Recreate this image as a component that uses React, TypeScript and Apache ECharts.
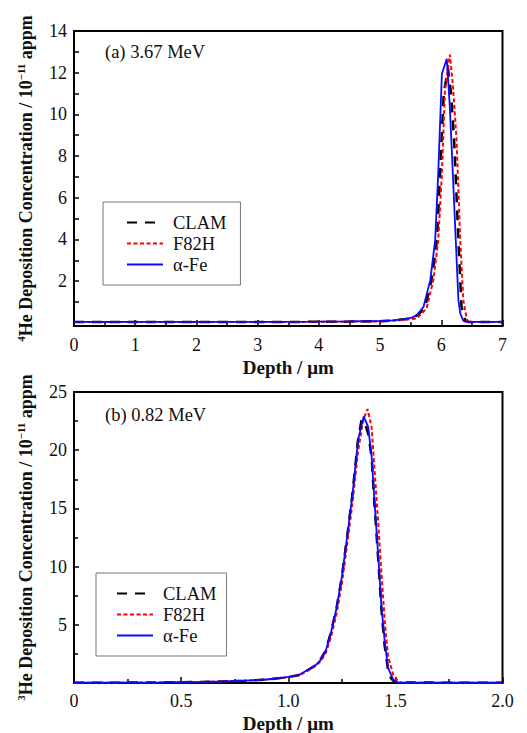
import React, { useEffect, useRef } from "react";
import * as echarts from "echarts";

// ---- data (a) 3.67 MeV, 4He ----
const topCLAM: [number, number][] = [
  [0, 0.04], [1, 0.04], [2, 0.04], [3, 0.04], [4, 0.05], [4.5, 0.06], [5, 0.08], [5.2, 0.11],
  [5.4, 0.17], [5.5, 0.22], [5.6, 0.35], [5.73, 0.69], [5.84, 2.05], [5.93, 3.96], [5.98, 7.16],
  [6.04, 11.0], [6.11, 12.2], [6.16, 11.0], [6.21, 8.75], [6.28, 3.96], [6.33, 0.77], [6.39, 0.13],
  [6.45, 0.04], [7, 0.04],
];
const topF82H: [number, number][] = [
  [0, 0.04], [1, 0.04], [2, 0.04], [3, 0.04], [4, 0.05], [4.5, 0.06], [5, 0.07], [5.2, 0.1],
  [5.4, 0.14], [5.6, 0.21], [5.76, 0.69], [5.87, 2.05], [5.95, 3.96], [6.01, 7.16], [6.06, 11.15],
  [6.14, 12.87], [6.19, 11.4], [6.25, 8.75], [6.31, 3.96], [6.36, 1.09], [6.42, 0.13], [6.46, 0.04],
  [7, 0.04],
];
const topFe: [number, number][] = [
  [0, 0.05], [1, 0.05], [2, 0.05], [3, 0.05], [4, 0.06], [4.5, 0.07], [5, 0.09], [5.2, 0.12],
  [5.4, 0.18], [5.52, 0.25], [5.6, 0.38], [5.71, 0.77], [5.82, 2.05], [5.9, 3.96], [5.95, 7.16],
  [6.01, 11.95], [6.09, 12.67], [6.14, 10.35], [6.2, 6.4], [6.28, 1.09], [6.31, 0.45], [6.36, 0.1],
  [6.4, 0.05], [7, 0.05],
];

// ---- data (b) 0.82 MeV, 3He ----
const botCLAM: [number, number][] = [
  [0, 0.02], [0.2, 0.03], [0.4, 0.05], [0.6, 0.09], [0.7, 0.13], [0.8, 0.2], [0.9, 0.3], [1.0, 0.5],
  [1.05, 0.68], [1.1, 1.2], [1.125, 1.5], [1.15, 2.0], [1.175, 2.8], [1.2, 4.4], [1.225, 6.4],
  [1.25, 9.1], [1.275, 12.6], [1.3, 16.3], [1.325, 20.8], [1.342, 22.6], [1.36, 22.2], [1.375, 21.3],
  [1.39, 19.2], [1.4, 16.0], [1.42, 10.6], [1.435, 6.3], [1.45, 3.2], [1.465, 1.2], [1.48, 0.4],
  [1.49, 0.2], [1.51, 0.04], [2.0, 0.02],
];
const botF82H: [number, number][] = [
  [0, 0.02], [0.2, 0.03], [0.4, 0.05], [0.6, 0.09], [0.7, 0.13], [0.8, 0.2], [0.9, 0.3], [1.0, 0.48],
  [1.05, 0.64], [1.1, 1.15], [1.125, 1.42], [1.15, 1.85], [1.175, 2.55], [1.2, 4.0], [1.225, 5.9],
  [1.25, 8.5], [1.275, 11.9], [1.3, 15.5], [1.325, 19.8], [1.35, 22.6], [1.37, 23.54], [1.389, 22.0],
  [1.404, 18.0], [1.42, 13.7], [1.435, 9.45], [1.451, 5.15], [1.466, 2.29], [1.49, 0.71],
  [1.513, 0.14], [1.53, 0.03], [2.0, 0.02],
];
const botFe: [number, number][] = [
  [0, 0.02], [0.2, 0.03], [0.4, 0.05], [0.6, 0.09], [0.7, 0.13], [0.8, 0.2], [0.9, 0.3], [1.0, 0.52],
  [1.05, 0.68], [1.1, 1.22], [1.125, 1.5], [1.15, 1.95], [1.175, 2.75], [1.2, 4.4], [1.225, 6.4],
  [1.25, 9.1], [1.275, 12.6], [1.3, 16.2], [1.326, 20.9], [1.352, 22.9], [1.373, 22.0], [1.389, 19.5],
  [1.404, 15.2], [1.42, 10.9], [1.435, 6.58], [1.451, 3.44], [1.466, 1.29], [1.49, 0.28],
  [1.513, 0.04], [2.0, 0.02],
];

const seriesNames = ["CLAM", "F82H", "α-Fe"];
const topYLabels = [2, 4, 6, 8, 10, 12, 14];
const topYTicks = [1, 2, 3, 4, 5, 6, 7, 8, 9, 10, 11, 12, 13, 14];
const panelLabels = ["(a) 3.67 MeV", "(b) 0.82 MeV"];

const FONT = "'Liberation Serif', 'Times New Roman', serif";
const TXT = "#111";

export default function App() {
  const ref = useRef<HTMLDivElement>(null);
  useEffect(() => {
    if (!ref.current) return;
    const chart = echarts.init(ref.current, undefined, { renderer: "svg" });

    const styles = [
      { color: "#000000", lineStyle: { color: "#000000", width: 2.5, type: [10, 8] } },
      { color: "#ff0000", lineStyle: { color: "#ff0000", width: 2, type: [4, 2.5] } },
      { color: "#0a0aff", lineStyle: { color: "#0a0aff", width: 1.8, type: "solid" } },
    ];

    const axisCommon = {
      axisLine: { show: true, onZero: false, lineStyle: { color: "#000", width: 2 } },
      axisTick: { show: true, inside: true, length: 6, lineStyle: { color: "#000", width: 1.5 } },
      minorTick: { show: true, length: 4, splitNumber: 2, lineStyle: { color: "#000", width: 1.5 } },
      splitLine: { show: false },
      axisLabel: { color: TXT, fontFamily: FONT, fontSize: 18 },
    };

    const xName = (gap: number) => ({
      name: "Depth / μm",
      nameLocation: "middle",
      nameGap: gap,
      nameTextStyle: { fontFamily: FONT, fontSize: 19, fontWeight: "bold", color: TXT },
    });

    const yName = (iso: string) => ({
      name: `{sup|${iso}}{b|He Deposition Concentration / 10}{sup|−11}{b| appm}`,
      nameLocation: "middle",
      nameRotate: 90,
      nameGap: 37,
      nameTextStyle: {
        rich: {
          b: { fontFamily: FONT, fontSize: 18, fontWeight: "bold", color: TXT, lineHeight: 22 },
          sup: { fontFamily: FONT, fontSize: 11, fontWeight: "bold", color: TXT, lineHeight: 22, verticalAlign: "top" },
        },
      },
    });

    const legendCommon = {
      orient: "vertical",
      data: seriesNames,
      itemWidth: 36,
      itemHeight: 14,
      itemGap: 2,
      borderColor: "#777",
      borderWidth: 1,
      borderRadius: 0,
      itemStyle: { opacity: 0 },
      textStyle: { fontFamily: FONT, fontSize: 18.5, color: TXT, lineHeight: 18.5, padding: [0, 0, 0, 5] },
    };

    const mk = (name: string, data: [number, number][], idx: number, i: number) => ({
      name,
      type: "line",
      xAxisIndex: idx,
      yAxisIndex: idx,
      data,
      symbol: "none",
      showSymbol: false,
      smooth: false,
      color: styles[i].color,
      lineStyle: styles[i].lineStyle,
      z: 2 + i,
    });

    chart.setOption({
      animation: false,
      backgroundColor: "#fff",
      grid: [
        { left: 74, top: 31, width: 428.5, height: 295, show: true, borderColor: "#000", borderWidth: 2, outerBoundsMode: "none" },
        { left: 74, top: 392, width: 428.5, height: 291, show: true, borderColor: "#000", borderWidth: 2, outerBoundsMode: "none" },
      ],
      xAxis: [
        {
          type: "value", gridIndex: 0, min: 0, max: 7, interval: 1, ...axisCommon,
          axisLabel: { ...axisCommon.axisLabel, margin: 10 },
          ...xName(32),
        },
        {
          type: "value", gridIndex: 1, min: 0, max: 2, interval: 0.5, ...axisCommon,
          axisLabel: {
            ...axisCommon.axisLabel, margin: 9,
            formatter: (v: number) => (v === 0 ? "0" : v.toFixed(1)),
          },
          ...xName(31),
        },
      ],
      yAxis: [
        {
          type: "value", gridIndex: 0, min: -0.15, max: 14, ...axisCommon,
          axisTick: { ...axisCommon.axisTick, length: 5, customValues: topYTicks },
          minorTick: { show: false },
          axisLabel: { ...axisCommon.axisLabel, margin: 7, customValues: topYLabels },
          ...yName("4"),
        },
        {
          type: "value", gridIndex: 1, min: 0, max: 25, interval: 5, ...axisCommon,
          axisTick: { ...axisCommon.axisTick, length: 5 },
          axisLabel: {
            ...axisCommon.axisLabel, margin: 7,
            formatter: (v: number) => (v === 0 ? "" : String(v)),
          },
          ...yName("3"),
        },
      ],
      legend: [
        { ...legendCommon, left: 103, top: 202, padding: [11, 14, 11, 23] },
        { ...legendCommon, left: 96, top: 573, padding: [11, 10, 11, 20] },
      ],
      graphic: [
        { type: "text", left: 105, top: 42, style: { text: panelLabels[0], fontFamily: FONT, fontSize: 18.5, fill: TXT } },
        { type: "text", left: 105, top: 405, style: { text: panelLabels[1], fontFamily: FONT, fontSize: 18.5, fill: TXT } },
      ],
      series: [
        mk(seriesNames[0], topCLAM, 0, 0),
        mk(seriesNames[1], topF82H, 0, 1),
        mk(seriesNames[2], topFe, 0, 2),
        mk(seriesNames[0], botCLAM, 1, 0),
        mk(seriesNames[1], botF82H, 1, 1),
        mk(seriesNames[2], botFe, 1, 2),
      ],
    });
    return () => chart.dispose();
  }, []);
  return (
    <div
      ref={ref}
      style={{ position: "fixed", left: 0, top: 0, width: 527, height: 733, background: "#fff" }}
    />
  );
}
